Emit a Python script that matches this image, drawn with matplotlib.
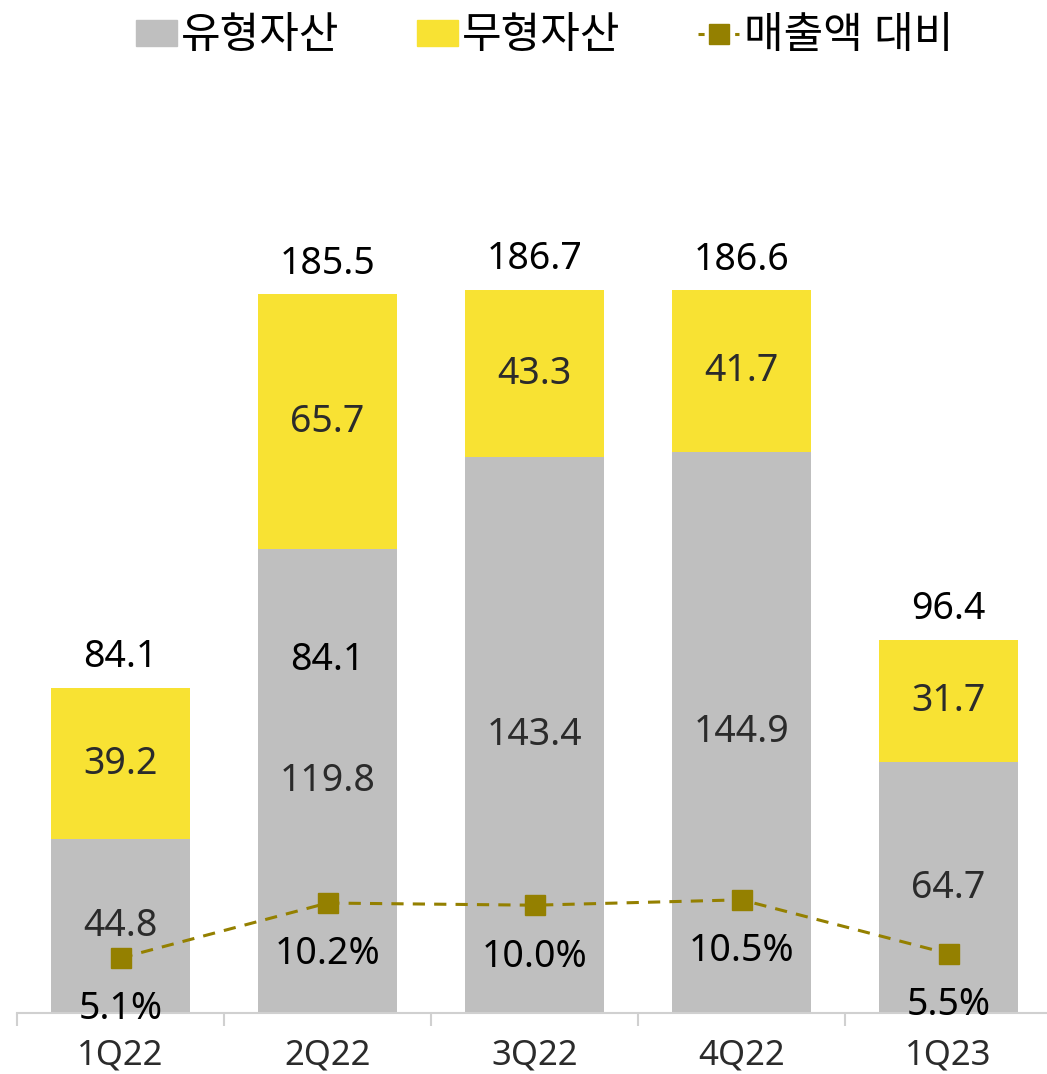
import matplotlib
matplotlib.use("Agg")
import matplotlib.pyplot as plt
from matplotlib.patches import Patch
from matplotlib.lines import Line2D
import numpy as np

plt.rcParams['font.family'] = ['Noto Sans', 'Noto Sans CJK KR', 'DejaVu Sans']

# data (조원 단위 추정, 비율 %)
quarters = ['1Q22', '2Q22', '3Q22', '4Q22', '1Q23']
tangible = [44.8, 119.8, 143.4, 144.9, 64.7]
intangible = [39.2, 65.7, 43.3, 41.7, 31.7]
totals = [84.1, 185.5, 186.7, 186.6, 96.4]
ratio = [5.1, 10.2, 10.0, 10.5, 5.5]
# leftover label sitting inside the 2Q22 bar in the original
stray_label = (1, 91.0, '84.1')

gray = '#BFBFBF'
yellow = '#F8E233'
olive = '#948000'

W, H = 1047, 1074
fig = plt.figure(figsize=(W / 100, H / 100), dpi=100)
ax = fig.add_axes([17 / W, 61 / H, 1035 / W, 953 / H])
ax2 = ax.twinx()

x = np.arange(len(quarters))
ax.bar(x, tangible, width=0.667, color=gray, zorder=2)
ax.bar(x, intangible, bottom=tangible, width=0.667, color=yellow, zorder=2)

ax.set_xlim(-0.5, 4.5)
ax.set_ylim(0, 246)
ax2.set_ylim(0, 88.4)

fs = 27
# labels inside segments
for i in range(len(x)):
    ax.text(x[i], tangible[i] / 2, f'{tangible[i]:.1f}', ha='center', va='center',
            fontsize=fs, fontweight='light', color='#2b2b2b', zorder=5)
    ax.text(x[i], tangible[i] + intangible[i] / 2, f'{intangible[i]:.1f}', ha='center',
            va='center', fontsize=fs, fontweight='light', color='#2b2b2b', zorder=5)
    ax.annotate(f'{totals[i]:.1f}', (x[i], totals[i]), xytext=(0, 22), textcoords='offset points',
                ha='center', va='center', fontsize=fs, color='black')

ax.text(stray_label[0], stray_label[1], stray_label[2], ha='center', va='center',
        fontsize=fs, color='black', zorder=5)

# ratio line
ax2.plot(x, ratio, color=olive, linestyle=(0, (4, 3)), linewidth=2.2,
         marker='s', markersize=14, zorder=4)
for i in range(len(x)):
    ax2.annotate(f'{ratio[i]:.1f}%', (x[i], ratio[i]), xytext=(0, -37), textcoords='offset points',
                 ha='center', va='center', fontsize=fs, color='black', zorder=6)

# axes styling
for a in (ax, ax2):
    for s in ('top', 'right', 'left'):
        a.spines[s].set_visible(False)
    a.set_yticks([])
ax2.spines['bottom'].set_visible(False)
ax.spines['bottom'].set_color('#D0D0D0')
ax.spines['bottom'].set_linewidth(1.5)

ax.set_xticks(x)
ax.set_xticklabels(quarters, fontsize=25, fontweight='light', color='#2b2b2b')
ax.tick_params(axis='x', length=0, pad=18)
ax.set_xticks(np.arange(-0.5, 5.0, 1.0), minor=True)
ax.tick_params(axis='x', which='minor', length=9, width=1.5, color='#D0D0D0')

ax.set_zorder(ax2.get_zorder() - 1)
ax.patch.set_visible(False)

handles = [Patch(color=gray), Patch(color=yellow),
           Line2D([0], [0], color=olive, linestyle=(0, (2, 2)), linewidth=2.2,
                  marker='s', markersize=14)]
fig.legend(handles, ['유형자산', '무형자산', '매출액 대비'], loc='upper center',
           bbox_to_anchor=(0.52, 1.022), ncol=3, frameon=False, fontsize=31,
           handlelength=0.95, handleheight=0.55, handletextpad=0.1, columnspacing=1.8)

fig.savefig('out.png', dpi=100)
